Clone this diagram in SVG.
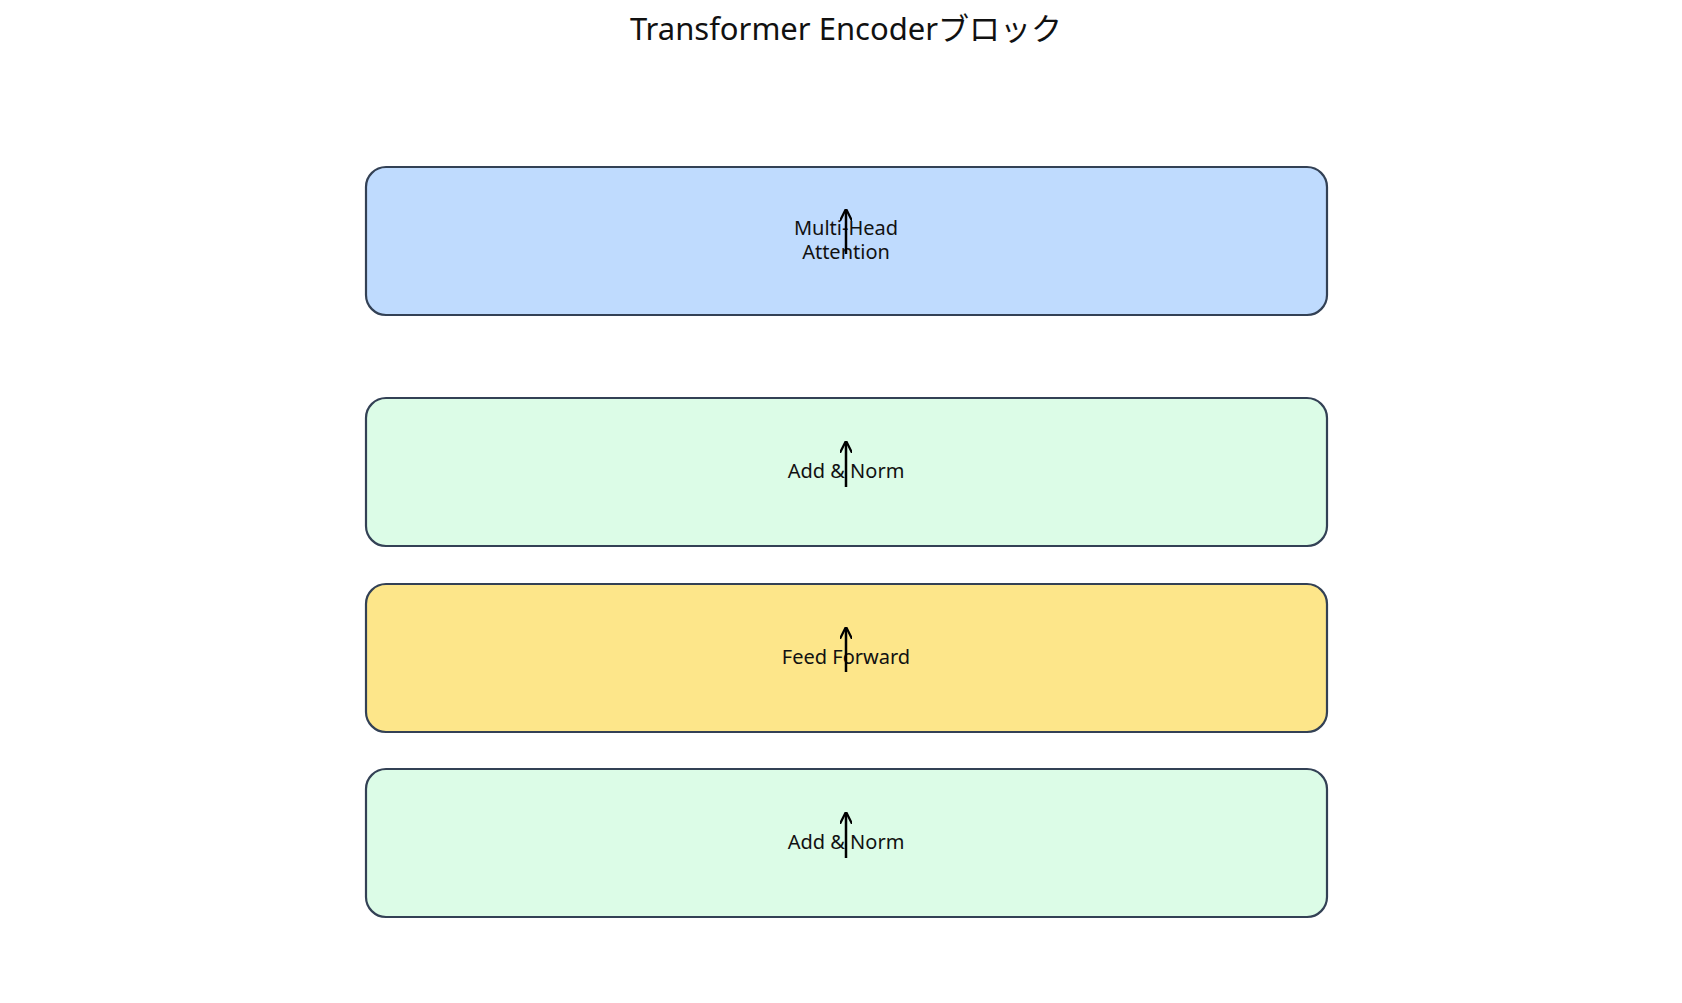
<svg xmlns="http://www.w3.org/2000/svg" width="1682" height="1003" viewBox="0 0 1682 1003">
<style>
.box{stroke:#334155;stroke-width:2.2}
.lbl{font-family:"Noto Sans","Noto Sans CJK JP",sans-serif;font-size:20px;fill:#111;text-anchor:middle}
.title{font-family:"Noto Sans","Noto Sans CJK JP",sans-serif;font-size:31px;fill:#111;text-anchor:middle}
.arr{stroke:#000;stroke-width:2.5;fill:none}
</style>
<defs><marker id="ah" viewBox="0 0 10 10" refX="9" refY="5" markerWidth="5" markerHeight="5" orient="auto"><path d="M0,0 L10,5 L0,10" fill="none" stroke="#000" stroke-width="1.8"/></marker></defs>
<rect width="1682" height="1003" fill="#fff"/>
<text class="title" x="846" y="40">Transformer Encoderブロック</text>
<g id="mha"><rect class="box" x="366" y="167" width="961" height="148" rx="20" fill="#bfdbfe"/><text class="lbl" x="846" y="235">Multi-Head</text><text class="lbl" x="846" y="259">Attention</text></g>
<g id="addnorm1"><rect class="box" x="366" y="398" width="961" height="148" rx="20" fill="#dcfce7"/><text class="lbl" x="846" y="478">Add &amp; Norm</text></g>
<g id="ff"><rect class="box" x="366" y="584" width="961" height="148" rx="20" fill="#fde68a"/><text class="lbl" x="846" y="664">Feed Forward</text></g>
<g id="addnorm2"><rect class="box" x="366" y="769" width="961" height="148" rx="20" fill="#dcfce7"/><text class="lbl" x="846" y="849">Add &amp; Norm</text></g>
<g id="connectors">
<line class="arr" x1="846" y1="254" x2="846" y2="210" marker-end="url(#ah)"/>
<line class="arr" x1="846" y1="487" x2="846" y2="442" marker-end="url(#ah)"/>
<line class="arr" x1="846" y1="672" x2="846" y2="628" marker-end="url(#ah)"/>
<line class="arr" x1="846" y1="858" x2="846" y2="813" marker-end="url(#ah)"/>
</g>
</svg>
